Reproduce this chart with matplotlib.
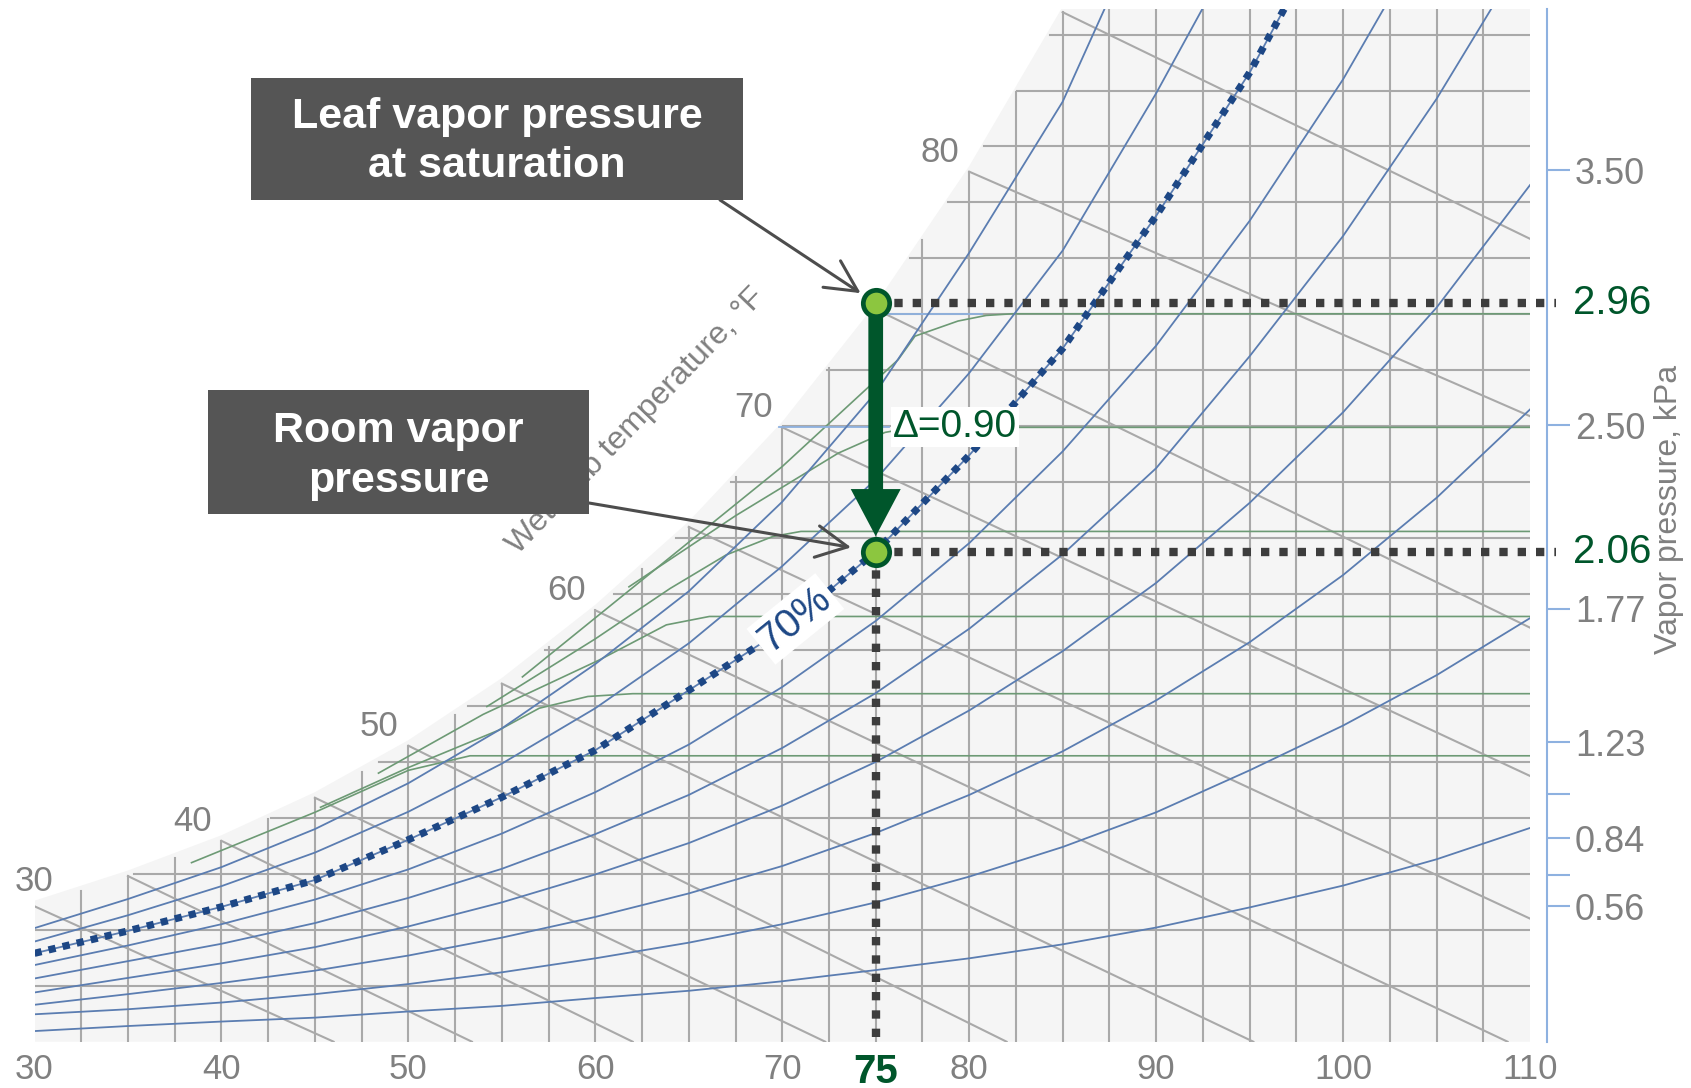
import numpy as np
import matplotlib
matplotlib.use("Agg")
import matplotlib.pyplot as plt
from matplotlib.patches import Rectangle

plt.rcParams["font.family"] = ["Liberation Sans", "DejaVu Sans"]

W, H = 1691, 1088

# dry-bulb temperature, °F; humidity values are grains of moisture per lb of dry air
temps = [30, 35, 40, 45, 50, 55, 60, 65, 70, 75, 80, 85, 90, 95, 100, 105, 110]
sat = [24.2, 29.6, 35.9, 43.6, 52.9, 64.0, 77.1, 92.0, 109.8, 130.9, 155.5, 184.0, 217.0]

rh10 = [1.9, 2.8, 3.6, 4.3, 5.4, 6.4, 7.8, 9.1, 10.8, 12.8, 14.9, 17.4, 20.4, 24.0, 27.9, 32.6, 38.2]
rh20 = [4.9, 5.8, 7.0, 8.5, 10.3, 12.4, 14.9, 17.7, 21.0, 24.9, 29.5, 34.8, 41.0, 48.5, 56.5, 65.5, 75.7]
rh30 = [6.6, 8.5, 10.5, 12.7, 15.4, 18.6, 22.3, 26.5, 31.4, 37.3, 44.1, 51.9, 61.0, 71.4, 83.4, 97.2, 113.0]
rh40 = [8.8, 11.4, 14.0, 16.9, 20.6, 24.9, 29.9, 35.5, 42.2, 50.0, 59.2, 69.8, 82.0, 96.3, 112.5, 131.2, 153.1]
rh50 = [11.3, 14.4, 17.5, 21.2, 25.7, 30.9, 37.1, 44.1, 52.5, 62.3, 73.8, 87.1, 102.5, 122.5, 144.0, 168.5, 196.0]
rh60 = [13.7, 17.2, 21.0, 25.4, 30.8, 37.2, 44.6, 53.1, 63.4, 75.2, 89.1, 105.5, 124.4, 146.7, 172.0, 201.0]
rh70 = [15.8, 19.8, 24.1, 28.9, 36.1, 43.7, 52.1, 62.8, 73.6, 87.6, 104.8, 123.9, 147.6, 173.2, 204.0]
rh80 = [17.9, 22.6, 27.8, 33.8, 41.1, 49.7, 59.6, 71.2, 85.0, 100.5, 119.5, 141.4, 169.5, 200.0]
rh90 = [20.3, 25.5, 31.2, 38.0, 46.2, 56.0, 67.5, 80.5, 96.5, 116.0, 141.0, 168.0, 205.0]
rh_curves = [rh10, rh20, rh30, rh40, rh50, rh60, rh80, rh90]

# wet-bulb lines: start on saturation, end at the bottom or at the right edge
wb_temps = [30, 35, 40, 45, 50, 55, 60, 65, 70, 75, 80, 85]
wb_end_temps = [46.0, 53.4, 62.0, 72.3, 82.0, 95.2, 108.8, 110, 110, 110, 110, 110]
wb_end_grains = [0, 0, 0, 0, 0, 0, 0, 22.0, 47.5, 74.0, 111.8, 143.5]
wb_labels = [30, 40, 50, 60, 70, 80]

# green curves (temperature, grains)
green_t = [
    [38.4, 45, 50, 53.3, 110],
    [45.3, 50, 54.85, 57.0, 59.6, 62, 110],
    [48.4, 54, 60.2, 63.8, 66.1, 110],
    [54.2, 60, 64, 67, 69.5, 71, 110],
    [61.8, 67.5, 73.0, 75.5, 77, 110],
    [56.1, 70.0, 74.45, 76.2, 77.1, 79.4, 80.9, 82.3, 110],
]
green_g = [
    [32.0, 41.0, 48.5, 51.1, 51.1],
    [41.9, 49.0, 55.7, 59.6, 61.7, 62.2, 62.2],
    [48.0, 58.5, 68.2, 74.5, 76.0, 76.0],
    [59.9, 72.0, 81.0, 87.0, 90.3, 91.2, 91.2],
    [81.3, 94.0, 105.2, 108.9, 109.8, 109.8],
    [65.2, 102.8, 116.5, 121.9, 126.1, 128.8, 129.8, 130.1, 130.1],
]
blue_h_levels = [130.0, 109.8]
blue_h_start = [75.4, 69.8]
blue_h_end = [80.7, 75.7]

# the two states
state_temp = 75
leaf_grains, room_grains = 132.0, 87.6
leaf_kpa, room_kpa = 2.96, 2.06

kpa_ticks = [0.56, 0.69, 0.84, 1.02, 1.23, 1.77, 2.50, 3.50]
kpa_labels = ["0.56", "", "0.84", "", "1.23", "1.77", "2.50", "3.50"]
x_ticks = [30, 40, 50, 60, 70, 75, 80, 90, 100, 110]

GRID = "#a9a9a9"
BLUE = "#5b7db1"
DOTBLUE = "#1d4785"
GREEN = "#6d9a75"
DKGREEN = "#00562b"
LTGREEN = "#8cc63f"
SPINE = "#8eb1e0"
TXT = "#808080"
DOTS = "#3d3d3d"
BOX = "#555555"


def grains_from_kpa(p):
    # humidity ratio (grains/lb) at sea-level pressure
    return 7000 * 0.622 * p / (101.325 - p)


fig = plt.figure(figsize=(W / 100, H / 100), dpi=100)
ax = fig.add_axes([34.5 / W, 46.3 / H, 1495.5 / W, 1032.3 / H])
ax.set_xlim(30, 110)
ax.set_ylim(0, 184.5)
ax.set_facecolor("white")

sat_t = temps[:len(sat)]
tt = np.linspace(30, 110, 321)
ax.fill_between(tt, 0, np.interp(tt, sat_t, sat) + 1.0, color="#f5f5f5", lw=0, zorder=0)

# grid clipped at saturation
for t in np.arange(32.5, 110, 2.5):
    ax.plot([t, t], [0, np.interp(t, sat_t, sat)], color=GRID, lw=1.5, zorder=1)
for g in range(10, 181, 10):
    ax.plot([np.interp(g, sat, sat_t), 110], [g, g], color=GRID, lw=1.5, zorder=1)

# wet bulb lines
wb_start = np.interp(wb_temps, sat_t, sat)
for t0, g0, t1, g1 in zip(wb_temps, wb_start, wb_end_temps, wb_end_grains):
    ax.plot([t0, t1], [g0, g1], color=GRID, lw=1.5, zorder=2)
for t in wb_labels:
    off = (0, 18) if t == 30 else (-21, 14)
    ax.annotate(str(t), xy=(t, np.interp(t, sat_t, sat)), xytext=off,
                textcoords="offset points", ha="center", va="center",
                fontsize=25, color=TXT, zorder=3)

for gt, gg in zip(green_t, green_g):
    ax.plot(gt, gg, color=GREEN, lw=1.2, zorder=3)
for lv, t0, t1 in zip(blue_h_levels, blue_h_start, blue_h_end):
    ax.plot([t0, t1], [lv, lv], color=SPINE, lw=1.3, zorder=3)

for c in rh_curves + [rh70]:
    ax.plot(temps[:len(c)], c, color=BLUE, lw=1.3, zorder=4)
ax.plot(temps[:len(rh70)], rh70, color=DOTBLUE, lw=5.2, ls=(0, (1, 1.0)),
        dash_capstyle="butt", zorder=5)

# guides to the right axis and down to the x axis
for g in (leaf_grains, room_grains):
    ax.plot([state_temp, 111.4], [g, g], color=DOTS, lw=6, ls=(0, (1, 1.2)),
            dash_capstyle="butt", clip_on=False, zorder=6)
ax.plot([state_temp, state_temp], [room_grains, 0], color=DOTS, lw=6,
        ls=(0, (1, 1.2)), dash_capstyle="butt", clip_on=False, zorder=6)

ax.annotate("", xy=(state_temp, room_grains), xytext=(state_temp, leaf_grains),
            arrowprops=dict(arrowstyle="simple,head_length=3.4,head_width=3.6,tail_width=1.06",
                            mutation_scale=10, fc=DKGREEN, ec="none", shrinkA=0, shrinkB=11),
            zorder=7)
ax.plot([state_temp, state_temp], [leaf_grains, room_grains], ls="none", marker="o",
        ms=19, mfc=LTGREEN, mec=DKGREEN, mew=3.4, zorder=8)

ax.annotate(f"\u0394={leaf_kpa - room_kpa:.2f}", xy=(state_temp, (leaf_grains + room_grains) / 2),
            xytext=(12.6, 0), textcoords="offset points", ha="left", va="center",
            fontsize=28, color=DKGREEN, zorder=9,
            bbox=dict(boxstyle="square,pad=0.05", fc="white", ec="none"))
t70 = 70.7
ax.text(t70, np.interp(t70, temps[:len(rh70)], rh70), "70%", rotation=39,
        rotation_mode="anchor", ha="center", va="center", fontsize=29, color=DOTBLUE,
        zorder=6, bbox=dict(boxstyle="square,pad=0.1", fc="white", ec="none"))

for lbl, g in ((leaf_kpa, leaf_grains), (room_kpa, room_grains)):
    ax.annotate(f"{lbl:.2f}", xy=(1, g), xycoords=("axes fraction", "data"),
                xytext=(30.7, 0), textcoords="offset points", ha="left", va="center",
                fontsize=29, color=DKGREEN, annotation_clip=False)

# axes styling
for s in ("top", "bottom", "left"):
    ax.spines[s].set_visible(False)
ax.spines["right"].set_position(("outward", 12))
ax.spines["right"].set_color(SPINE)
ax.spines["right"].set_linewidth(1.5)
ax.yaxis.tick_right()
ax.set_yticks([grains_from_kpa(p) for p in kpa_ticks], kpa_labels)
ax.tick_params(axis="y", length=16.8, width=1.5, color=SPINE, labelcolor=TXT,
               labelsize=26, pad=3.6)
ax.set_xticks(x_ticks, [str(x) for x in x_ticks])
ax.tick_params(axis="x", length=0, labelsize=25, labelcolor=TXT, pad=8)
for lab in ax.get_xticklabels():
    if lab.get_text() == str(state_temp):
        lab.set_color(DKGREEN)
        lab.set_fontweight("bold")
        lab.set_fontsize(29)

fig.text(1669 / W, 1 - 509 / H, "Vapor pressure, kPa", rotation=90, ha="center",
         va="center", fontsize=23, color=TXT)
fig.text(636 / W, 1 - 421 / H, "Wet bulb temperature, \u00b0F", rotation=46, ha="center",
         va="center", rotation_mode="anchor", fontsize=23, color=TXT, zorder=3)

# callout boxes
fig.add_artist(Rectangle((251 / W, 1 - 200 / H), 492 / W, 122 / H,
                         transform=fig.transFigure, fc=BOX, ec="none", zorder=10))
fig.text(497 / W, 1 - 141.5 / H, "Leaf vapor pressure\nat saturation", ha="center",
         va="center", color="white", fontsize=31, fontweight="bold", linespacing=1.3, zorder=11)
fig.add_artist(Rectangle((208 / W, 1 - 514 / H), 381 / W, 124 / H,
                         transform=fig.transFigure, fc=BOX, ec="none", zorder=10))
fig.text(398.5 / W, 1 - 456 / H, "Room vapor\npressure", ha="center",
         va="center", color="white", fontsize=31, fontweight="bold", linespacing=1.3, zorder=11)

arrow_kw = dict(arrowstyle="->,head_length=0.75,head_width=0.38", mutation_scale=30,
                color="#4d4d4d", lw=2.2, shrinkA=0)
ax.annotate("", xy=(state_temp, leaf_grains), xytext=(720, H - 200), textcoords="figure pixels",
            arrowprops=dict(arrow_kw, shrinkB=13), zorder=9)
ax.annotate("", xy=(state_temp, room_grains), xytext=(589, H - 503), textcoords="figure pixels",
            arrowprops=dict(arrow_kw, shrinkB=18), zorder=9)

fig.savefig("out.png", dpi=100)
